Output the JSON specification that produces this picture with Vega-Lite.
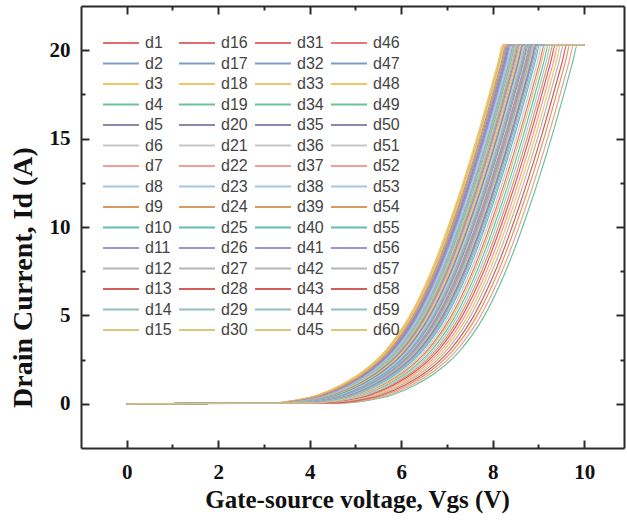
{
"$schema":"https://vega.github.io/schema/vega-lite/v6.json",
"width":543,"height":442,
"autosize":{"type":"none"},
"padding":{"left":81,"top":6,"right":3,"bottom":79},
"background":"white",
"config":{"view":{"stroke":null},
"axis":{"grid":false,"domainColor":"#2a2a2a","domainWidth":2,"tickColor":"#2a2a2a","tickWidth":2,"labelFont":"Liberation Serif","labelFontWeight":"bold","labelFontSize":21,"labelColor":"#111","titleFont":"Liberation Serif","titleFontWeight":"bold","titleFontSize":24,"titleColor":"#111","labelOverlap":false,"labelFlush":false,"labelBound":false}},
"datasets":{"curves":[
{"s":"d1","x":0,"y":0},{"s":"d1","x":3.41,"y":0.05},{"s":"d1","x":3.91,"y":0.2},{"s":"d1","x":4.41,"y":0.5},{"s":"d1","x":4.91,"y":1.05},{"s":"d1","x":5.41,"y":1.85},{"s":"d1","x":5.91,"y":3.05},{"s":"d1","x":6.41,"y":4.9},{"s":"d1","x":6.91,"y":7.6},{"s":"d1","x":7.41,"y":11.1},{"s":"d1","x":7.91,"y":15.2},{"s":"d1","x":8.36,"y":19.35},{"s":"d1","x":8.46,"y":20.3},{"s":"d1","x":10,"y":20.3},
{"s":"d2","x":0,"y":0},{"s":"d2","x":3.29,"y":0.05},{"s":"d2","x":3.79,"y":0.2},{"s":"d2","x":4.29,"y":0.5},{"s":"d2","x":4.79,"y":1.05},{"s":"d2","x":5.29,"y":1.85},{"s":"d2","x":5.79,"y":3.05},{"s":"d2","x":6.29,"y":4.9},{"s":"d2","x":6.79,"y":7.6},{"s":"d2","x":7.29,"y":11.1},{"s":"d2","x":7.79,"y":15.2},{"s":"d2","x":8.24,"y":19.35},{"s":"d2","x":8.34,"y":20.3},{"s":"d2","x":10,"y":20.3},
{"s":"d3","x":0,"y":0},{"s":"d3","x":3.17,"y":0.05},{"s":"d3","x":3.67,"y":0.2},{"s":"d3","x":4.17,"y":0.5},{"s":"d3","x":4.67,"y":1.05},{"s":"d3","x":5.17,"y":1.85},{"s":"d3","x":5.67,"y":3.05},{"s":"d3","x":6.17,"y":4.9},{"s":"d3","x":6.67,"y":7.6},{"s":"d3","x":7.17,"y":11.1},{"s":"d3","x":7.67,"y":15.2},{"s":"d3","x":8.12,"y":19.35},{"s":"d3","x":8.22,"y":20.3},{"s":"d3","x":10,"y":20.3},
{"s":"d4","x":0,"y":0},{"s":"d4","x":3.62,"y":0.05},{"s":"d4","x":4.12,"y":0.2},{"s":"d4","x":4.62,"y":0.5},{"s":"d4","x":5.12,"y":1.05},{"s":"d4","x":5.62,"y":1.85},{"s":"d4","x":6.12,"y":3.05},{"s":"d4","x":6.62,"y":4.9},{"s":"d4","x":7.12,"y":7.6},{"s":"d4","x":7.62,"y":11.1},{"s":"d4","x":8.12,"y":15.2},{"s":"d4","x":8.57,"y":19.35},{"s":"d4","x":8.67,"y":20.3},{"s":"d4","x":10,"y":20.3},
{"s":"d5","x":0,"y":0},{"s":"d5","x":3.33,"y":0.05},{"s":"d5","x":3.83,"y":0.2},{"s":"d5","x":4.33,"y":0.5},{"s":"d5","x":4.83,"y":1.05},{"s":"d5","x":5.33,"y":1.85},{"s":"d5","x":5.83,"y":3.05},{"s":"d5","x":6.33,"y":4.9},{"s":"d5","x":6.83,"y":7.6},{"s":"d5","x":7.33,"y":11.1},{"s":"d5","x":7.83,"y":15.2},{"s":"d5","x":8.28,"y":19.35},{"s":"d5","x":8.38,"y":20.3},{"s":"d5","x":10,"y":20.3},
{"s":"d6","x":0,"y":0},{"s":"d6","x":3.55,"y":0.05},{"s":"d6","x":4.05,"y":0.2},{"s":"d6","x":4.55,"y":0.5},{"s":"d6","x":5.05,"y":1.05},{"s":"d6","x":5.55,"y":1.85},{"s":"d6","x":6.05,"y":3.05},{"s":"d6","x":6.55,"y":4.9},{"s":"d6","x":7.05,"y":7.6},{"s":"d6","x":7.55,"y":11.1},{"s":"d6","x":8.05,"y":15.2},{"s":"d6","x":8.5,"y":19.35},{"s":"d6","x":8.6,"y":20.3},{"s":"d6","x":10,"y":20.3},
{"s":"d7","x":0,"y":0},{"s":"d7","x":3.5,"y":0.05},{"s":"d7","x":4.0,"y":0.2},{"s":"d7","x":4.5,"y":0.5},{"s":"d7","x":5.0,"y":1.05},{"s":"d7","x":5.5,"y":1.85},{"s":"d7","x":6.0,"y":3.05},{"s":"d7","x":6.5,"y":4.9},{"s":"d7","x":7.0,"y":7.6},{"s":"d7","x":7.5,"y":11.1},{"s":"d7","x":8.0,"y":15.2},{"s":"d7","x":8.45,"y":19.35},{"s":"d7","x":8.55,"y":20.3},{"s":"d7","x":10,"y":20.3},
{"s":"d8","x":0,"y":0},{"s":"d8","x":3.36,"y":0.05},{"s":"d8","x":3.86,"y":0.2},{"s":"d8","x":4.36,"y":0.5},{"s":"d8","x":4.86,"y":1.05},{"s":"d8","x":5.36,"y":1.85},{"s":"d8","x":5.86,"y":3.05},{"s":"d8","x":6.36,"y":4.9},{"s":"d8","x":6.86,"y":7.6},{"s":"d8","x":7.36,"y":11.1},{"s":"d8","x":7.86,"y":15.2},{"s":"d8","x":8.31,"y":19.35},{"s":"d8","x":8.41,"y":20.3},{"s":"d8","x":10,"y":20.3},
{"s":"d9","x":0,"y":0},{"s":"d9","x":3.2,"y":0.05},{"s":"d9","x":3.7,"y":0.2},{"s":"d9","x":4.2,"y":0.5},{"s":"d9","x":4.7,"y":1.05},{"s":"d9","x":5.2,"y":1.85},{"s":"d9","x":5.7,"y":3.05},{"s":"d9","x":6.2,"y":4.9},{"s":"d9","x":6.7,"y":7.6},{"s":"d9","x":7.2,"y":11.1},{"s":"d9","x":7.7,"y":15.2},{"s":"d9","x":8.15,"y":19.35},{"s":"d9","x":8.25,"y":20.3},{"s":"d9","x":10,"y":20.3},
{"s":"d10","x":0,"y":0},{"s":"d10","x":3.45,"y":0.05},{"s":"d10","x":3.95,"y":0.2},{"s":"d10","x":4.45,"y":0.5},{"s":"d10","x":4.95,"y":1.05},{"s":"d10","x":5.45,"y":1.85},{"s":"d10","x":5.95,"y":3.05},{"s":"d10","x":6.45,"y":4.9},{"s":"d10","x":6.95,"y":7.6},{"s":"d10","x":7.45,"y":11.1},{"s":"d10","x":7.95,"y":15.2},{"s":"d10","x":8.4,"y":19.35},{"s":"d10","x":8.5,"y":20.3},{"s":"d10","x":10,"y":20.3},
{"s":"d11","x":0,"y":0},{"s":"d11","x":3.27,"y":0.05},{"s":"d11","x":3.77,"y":0.2},{"s":"d11","x":4.27,"y":0.5},{"s":"d11","x":4.77,"y":1.05},{"s":"d11","x":5.27,"y":1.85},{"s":"d11","x":5.77,"y":3.05},{"s":"d11","x":6.27,"y":4.9},{"s":"d11","x":6.77,"y":7.6},{"s":"d11","x":7.27,"y":11.1},{"s":"d11","x":7.77,"y":15.2},{"s":"d11","x":8.22,"y":19.35},{"s":"d11","x":8.32,"y":20.3},{"s":"d11","x":10,"y":20.3},
{"s":"d12","x":0,"y":0},{"s":"d12","x":3.59,"y":0.05},{"s":"d12","x":4.09,"y":0.2},{"s":"d12","x":4.59,"y":0.5},{"s":"d12","x":5.09,"y":1.05},{"s":"d12","x":5.59,"y":1.85},{"s":"d12","x":6.09,"y":3.05},{"s":"d12","x":6.59,"y":4.9},{"s":"d12","x":7.09,"y":7.6},{"s":"d12","x":7.59,"y":11.1},{"s":"d12","x":8.09,"y":15.2},{"s":"d12","x":8.54,"y":19.35},{"s":"d12","x":8.64,"y":20.3},{"s":"d12","x":10,"y":20.3},
{"s":"d13","x":0,"y":0},{"s":"d13","x":3.68,"y":0.05},{"s":"d13","x":4.18,"y":0.2},{"s":"d13","x":4.68,"y":0.5},{"s":"d13","x":5.18,"y":1.05},{"s":"d13","x":5.68,"y":1.85},{"s":"d13","x":6.18,"y":3.05},{"s":"d13","x":6.68,"y":4.9},{"s":"d13","x":7.18,"y":7.6},{"s":"d13","x":7.68,"y":11.1},{"s":"d13","x":8.18,"y":15.2},{"s":"d13","x":8.63,"y":19.35},{"s":"d13","x":8.73,"y":20.3},{"s":"d13","x":10,"y":20.3},
{"s":"d14","x":0,"y":0},{"s":"d14","x":3.4,"y":0.05},{"s":"d14","x":3.9,"y":0.2},{"s":"d14","x":4.4,"y":0.5},{"s":"d14","x":4.9,"y":1.05},{"s":"d14","x":5.4,"y":1.85},{"s":"d14","x":5.9,"y":3.05},{"s":"d14","x":6.4,"y":4.9},{"s":"d14","x":6.9,"y":7.6},{"s":"d14","x":7.4,"y":11.1},{"s":"d14","x":7.9,"y":15.2},{"s":"d14","x":8.35,"y":19.35},{"s":"d14","x":8.45,"y":20.3},{"s":"d14","x":10,"y":20.3},
{"s":"d15","x":0,"y":0},{"s":"d15","x":3.19,"y":0.05},{"s":"d15","x":3.69,"y":0.2},{"s":"d15","x":4.19,"y":0.5},{"s":"d15","x":4.69,"y":1.05},{"s":"d15","x":5.19,"y":1.85},{"s":"d15","x":5.69,"y":3.05},{"s":"d15","x":6.19,"y":4.9},{"s":"d15","x":6.69,"y":7.6},{"s":"d15","x":7.19,"y":11.1},{"s":"d15","x":7.69,"y":15.2},{"s":"d15","x":8.14,"y":19.35},{"s":"d15","x":8.24,"y":20.3},{"s":"d15","x":10,"y":20.3},
{"s":"d16","x":0,"y":0},{"s":"d16","x":3.73,"y":0.05},{"s":"d16","x":4.23,"y":0.2},{"s":"d16","x":4.73,"y":0.5},{"s":"d16","x":5.23,"y":1.05},{"s":"d16","x":5.73,"y":1.85},{"s":"d16","x":6.23,"y":3.05},{"s":"d16","x":6.73,"y":4.9},{"s":"d16","x":7.23,"y":7.6},{"s":"d16","x":7.73,"y":11.1},{"s":"d16","x":8.23,"y":15.2},{"s":"d16","x":8.68,"y":19.35},{"s":"d16","x":8.78,"y":20.3},{"s":"d16","x":10,"y":20.3},
{"s":"d17","x":0,"y":0},{"s":"d17","x":3.24,"y":0.05},{"s":"d17","x":3.74,"y":0.2},{"s":"d17","x":4.24,"y":0.5},{"s":"d17","x":4.74,"y":1.05},{"s":"d17","x":5.24,"y":1.85},{"s":"d17","x":5.74,"y":3.05},{"s":"d17","x":6.24,"y":4.9},{"s":"d17","x":6.74,"y":7.6},{"s":"d17","x":7.24,"y":11.1},{"s":"d17","x":7.74,"y":15.2},{"s":"d17","x":8.19,"y":19.35},{"s":"d17","x":8.29,"y":20.3},{"s":"d17","x":10,"y":20.3},
{"s":"d18","x":0,"y":0},{"s":"d18","x":3.22,"y":0.05},{"s":"d18","x":3.72,"y":0.2},{"s":"d18","x":4.22,"y":0.5},{"s":"d18","x":4.72,"y":1.05},{"s":"d18","x":5.22,"y":1.85},{"s":"d18","x":5.72,"y":3.05},{"s":"d18","x":6.22,"y":4.9},{"s":"d18","x":6.72,"y":7.6},{"s":"d18","x":7.22,"y":11.1},{"s":"d18","x":7.72,"y":15.2},{"s":"d18","x":8.17,"y":19.35},{"s":"d18","x":8.27,"y":20.3},{"s":"d18","x":10,"y":20.3},
{"s":"d19","x":0,"y":0},{"s":"d19","x":3.8,"y":0.05},{"s":"d19","x":4.3,"y":0.2},{"s":"d19","x":4.8,"y":0.5},{"s":"d19","x":5.3,"y":1.05},{"s":"d19","x":5.8,"y":1.85},{"s":"d19","x":6.3,"y":3.05},{"s":"d19","x":6.8,"y":4.9},{"s":"d19","x":7.3,"y":7.6},{"s":"d19","x":7.8,"y":11.1},{"s":"d19","x":8.3,"y":15.2},{"s":"d19","x":8.75,"y":19.35},{"s":"d19","x":8.85,"y":20.3},{"s":"d19","x":10,"y":20.3},
{"s":"d20","x":0,"y":0},{"s":"d20","x":3.31,"y":0.05},{"s":"d20","x":3.81,"y":0.2},{"s":"d20","x":4.31,"y":0.5},{"s":"d20","x":4.81,"y":1.05},{"s":"d20","x":5.31,"y":1.85},{"s":"d20","x":5.81,"y":3.05},{"s":"d20","x":6.31,"y":4.9},{"s":"d20","x":6.81,"y":7.6},{"s":"d20","x":7.31,"y":11.1},{"s":"d20","x":7.81,"y":15.2},{"s":"d20","x":8.26,"y":19.35},{"s":"d20","x":8.36,"y":20.3},{"s":"d20","x":10,"y":20.3},
{"s":"d21","x":0,"y":0},{"s":"d21","x":3.64,"y":0.05},{"s":"d21","x":4.14,"y":0.2},{"s":"d21","x":4.64,"y":0.5},{"s":"d21","x":5.14,"y":1.05},{"s":"d21","x":5.64,"y":1.85},{"s":"d21","x":6.14,"y":3.05},{"s":"d21","x":6.64,"y":4.9},{"s":"d21","x":7.14,"y":7.6},{"s":"d21","x":7.64,"y":11.1},{"s":"d21","x":8.14,"y":15.2},{"s":"d21","x":8.59,"y":19.35},{"s":"d21","x":8.69,"y":20.3},{"s":"d21","x":10,"y":20.3},
{"s":"d22","x":0,"y":0},{"s":"d22","x":3.54,"y":0.05},{"s":"d22","x":4.04,"y":0.2},{"s":"d22","x":4.54,"y":0.5},{"s":"d22","x":5.04,"y":1.05},{"s":"d22","x":5.54,"y":1.85},{"s":"d22","x":6.04,"y":3.05},{"s":"d22","x":6.54,"y":4.9},{"s":"d22","x":7.04,"y":7.6},{"s":"d22","x":7.54,"y":11.1},{"s":"d22","x":8.04,"y":15.2},{"s":"d22","x":8.49,"y":19.35},{"s":"d22","x":8.59,"y":20.3},{"s":"d22","x":10,"y":20.3},
{"s":"d23","x":0,"y":0},{"s":"d23","x":3.38,"y":0.05},{"s":"d23","x":3.88,"y":0.2},{"s":"d23","x":4.38,"y":0.5},{"s":"d23","x":4.88,"y":1.05},{"s":"d23","x":5.38,"y":1.85},{"s":"d23","x":5.88,"y":3.05},{"s":"d23","x":6.38,"y":4.9},{"s":"d23","x":6.88,"y":7.6},{"s":"d23","x":7.38,"y":11.1},{"s":"d23","x":7.88,"y":15.2},{"s":"d23","x":8.33,"y":19.35},{"s":"d23","x":8.43,"y":20.3},{"s":"d23","x":10,"y":20.3},
{"s":"d24","x":0,"y":0},{"s":"d24","x":3.26,"y":0.05},{"s":"d24","x":3.76,"y":0.2},{"s":"d24","x":4.26,"y":0.5},{"s":"d24","x":4.76,"y":1.05},{"s":"d24","x":5.26,"y":1.85},{"s":"d24","x":5.76,"y":3.05},{"s":"d24","x":6.26,"y":4.9},{"s":"d24","x":6.76,"y":7.6},{"s":"d24","x":7.26,"y":11.1},{"s":"d24","x":7.76,"y":15.2},{"s":"d24","x":8.21,"y":19.35},{"s":"d24","x":8.31,"y":20.3},{"s":"d24","x":10,"y":20.3},
{"s":"d25","x":0,"y":0},{"s":"d25","x":3.48,"y":0.05},{"s":"d25","x":3.98,"y":0.2},{"s":"d25","x":4.48,"y":0.5},{"s":"d25","x":4.98,"y":1.05},{"s":"d25","x":5.48,"y":1.85},{"s":"d25","x":5.98,"y":3.05},{"s":"d25","x":6.48,"y":4.9},{"s":"d25","x":6.98,"y":7.6},{"s":"d25","x":7.48,"y":11.1},{"s":"d25","x":7.98,"y":15.2},{"s":"d25","x":8.43,"y":19.35},{"s":"d25","x":8.53,"y":20.3},{"s":"d25","x":10,"y":20.3},
{"s":"d26","x":0,"y":0},{"s":"d26","x":3.34,"y":0.05},{"s":"d26","x":3.84,"y":0.2},{"s":"d26","x":4.34,"y":0.5},{"s":"d26","x":4.84,"y":1.05},{"s":"d26","x":5.34,"y":1.85},{"s":"d26","x":5.84,"y":3.05},{"s":"d26","x":6.34,"y":4.9},{"s":"d26","x":6.84,"y":7.6},{"s":"d26","x":7.34,"y":11.1},{"s":"d26","x":7.84,"y":15.2},{"s":"d26","x":8.29,"y":19.35},{"s":"d26","x":8.39,"y":20.3},{"s":"d26","x":10,"y":20.3},
{"s":"d27","x":0,"y":0},{"s":"d27","x":3.69,"y":0.05},{"s":"d27","x":4.19,"y":0.2},{"s":"d27","x":4.69,"y":0.5},{"s":"d27","x":5.19,"y":1.05},{"s":"d27","x":5.69,"y":1.85},{"s":"d27","x":6.19,"y":3.05},{"s":"d27","x":6.69,"y":4.9},{"s":"d27","x":7.19,"y":7.6},{"s":"d27","x":7.69,"y":11.1},{"s":"d27","x":8.19,"y":15.2},{"s":"d27","x":8.64,"y":19.35},{"s":"d27","x":8.74,"y":20.3},{"s":"d27","x":10,"y":20.3},
{"s":"d28","x":0,"y":0},{"s":"d28","x":3.76,"y":0.05},{"s":"d28","x":4.26,"y":0.2},{"s":"d28","x":4.76,"y":0.5},{"s":"d28","x":5.26,"y":1.05},{"s":"d28","x":5.76,"y":1.85},{"s":"d28","x":6.26,"y":3.05},{"s":"d28","x":6.76,"y":4.9},{"s":"d28","x":7.26,"y":7.6},{"s":"d28","x":7.76,"y":11.1},{"s":"d28","x":8.26,"y":15.2},{"s":"d28","x":8.71,"y":19.35},{"s":"d28","x":8.81,"y":20.3},{"s":"d28","x":10,"y":20.3},
{"s":"d29","x":0,"y":0},{"s":"d29","x":3.43,"y":0.05},{"s":"d29","x":3.93,"y":0.2},{"s":"d29","x":4.43,"y":0.5},{"s":"d29","x":4.93,"y":1.05},{"s":"d29","x":5.43,"y":1.85},{"s":"d29","x":5.93,"y":3.05},{"s":"d29","x":6.43,"y":4.9},{"s":"d29","x":6.93,"y":7.6},{"s":"d29","x":7.43,"y":11.1},{"s":"d29","x":7.93,"y":15.2},{"s":"d29","x":8.38,"y":19.35},{"s":"d29","x":8.48,"y":20.3},{"s":"d29","x":10,"y":20.3},
{"s":"d30","x":0,"y":0},{"s":"d30","x":3.47,"y":0.05},{"s":"d30","x":3.97,"y":0.2},{"s":"d30","x":4.47,"y":0.5},{"s":"d30","x":4.97,"y":1.05},{"s":"d30","x":5.47,"y":1.85},{"s":"d30","x":5.97,"y":3.05},{"s":"d30","x":6.47,"y":4.9},{"s":"d30","x":6.97,"y":7.6},{"s":"d30","x":7.47,"y":11.1},{"s":"d30","x":7.97,"y":15.2},{"s":"d30","x":8.42,"y":19.35},{"s":"d30","x":8.52,"y":20.3},{"s":"d30","x":10,"y":20.3},
{"s":"d31","x":0,"y":0},{"s":"d31","x":3.82,"y":0.05},{"s":"d31","x":4.32,"y":0.2},{"s":"d31","x":4.82,"y":0.5},{"s":"d31","x":5.32,"y":1.05},{"s":"d31","x":5.82,"y":1.85},{"s":"d31","x":6.32,"y":3.05},{"s":"d31","x":6.82,"y":4.9},{"s":"d31","x":7.32,"y":7.6},{"s":"d31","x":7.82,"y":11.1},{"s":"d31","x":8.32,"y":15.2},{"s":"d31","x":8.77,"y":19.35},{"s":"d31","x":8.87,"y":20.3},{"s":"d31","x":10,"y":20.3},
{"s":"d32","x":0,"y":0},{"s":"d32","x":3.52,"y":0.05},{"s":"d32","x":4.02,"y":0.2},{"s":"d32","x":4.52,"y":0.5},{"s":"d32","x":5.02,"y":1.05},{"s":"d32","x":5.52,"y":1.85},{"s":"d32","x":6.02,"y":3.05},{"s":"d32","x":6.52,"y":4.9},{"s":"d32","x":7.02,"y":7.6},{"s":"d32","x":7.52,"y":11.1},{"s":"d32","x":8.02,"y":15.2},{"s":"d32","x":8.47,"y":19.35},{"s":"d32","x":8.57,"y":20.3},{"s":"d32","x":10,"y":20.3},
{"s":"d33","x":0,"y":0},{"s":"d33","x":3.57,"y":0.05},{"s":"d33","x":4.07,"y":0.2},{"s":"d33","x":4.57,"y":0.5},{"s":"d33","x":5.07,"y":1.05},{"s":"d33","x":5.57,"y":1.85},{"s":"d33","x":6.07,"y":3.05},{"s":"d33","x":6.57,"y":4.9},{"s":"d33","x":7.07,"y":7.6},{"s":"d33","x":7.57,"y":11.1},{"s":"d33","x":8.07,"y":15.2},{"s":"d33","x":8.52,"y":19.35},{"s":"d33","x":8.62,"y":20.3},{"s":"d33","x":10,"y":20.3},
{"s":"d34","x":0,"y":0},{"s":"d34","x":4.17,"y":0.05},{"s":"d34","x":4.67,"y":0.2},{"s":"d34","x":5.17,"y":0.5},{"s":"d34","x":5.67,"y":1.05},{"s":"d34","x":6.17,"y":1.85},{"s":"d34","x":6.67,"y":3.05},{"s":"d34","x":7.17,"y":4.9},{"s":"d34","x":7.67,"y":7.6},{"s":"d34","x":8.17,"y":11.1},{"s":"d34","x":8.67,"y":15.2},{"s":"d34","x":9.12,"y":19.35},{"s":"d34","x":9.22,"y":20.3},{"s":"d34","x":10,"y":20.3},
{"s":"d35","x":0,"y":0},{"s":"d35","x":3.61,"y":0.05},{"s":"d35","x":4.11,"y":0.2},{"s":"d35","x":4.61,"y":0.5},{"s":"d35","x":5.11,"y":1.05},{"s":"d35","x":5.61,"y":1.85},{"s":"d35","x":6.11,"y":3.05},{"s":"d35","x":6.61,"y":4.9},{"s":"d35","x":7.11,"y":7.6},{"s":"d35","x":7.61,"y":11.1},{"s":"d35","x":8.11,"y":15.2},{"s":"d35","x":8.56,"y":19.35},{"s":"d35","x":8.66,"y":20.3},{"s":"d35","x":10,"y":20.3},
{"s":"d36","x":0,"y":0},{"s":"d36","x":3.75,"y":0.05},{"s":"d36","x":4.25,"y":0.2},{"s":"d36","x":4.75,"y":0.5},{"s":"d36","x":5.25,"y":1.05},{"s":"d36","x":5.75,"y":1.85},{"s":"d36","x":6.25,"y":3.05},{"s":"d36","x":6.75,"y":4.9},{"s":"d36","x":7.25,"y":7.6},{"s":"d36","x":7.75,"y":11.1},{"s":"d36","x":8.25,"y":15.2},{"s":"d36","x":8.7,"y":19.35},{"s":"d36","x":8.8,"y":20.3},{"s":"d36","x":10,"y":20.3},
{"s":"d37","x":0,"y":0},{"s":"d37","x":4.38,"y":0.05},{"s":"d37","x":4.88,"y":0.2},{"s":"d37","x":5.38,"y":0.5},{"s":"d37","x":5.88,"y":1.05},{"s":"d37","x":6.38,"y":1.85},{"s":"d37","x":6.88,"y":3.05},{"s":"d37","x":7.38,"y":4.9},{"s":"d37","x":7.88,"y":7.6},{"s":"d37","x":8.38,"y":11.1},{"s":"d37","x":8.88,"y":15.2},{"s":"d37","x":9.33,"y":19.35},{"s":"d37","x":9.43,"y":20.3},{"s":"d37","x":10,"y":20.3},
{"s":"d38","x":0,"y":0},{"s":"d38","x":3.66,"y":0.05},{"s":"d38","x":4.16,"y":0.2},{"s":"d38","x":4.66,"y":0.5},{"s":"d38","x":5.16,"y":1.05},{"s":"d38","x":5.66,"y":1.85},{"s":"d38","x":6.16,"y":3.05},{"s":"d38","x":6.66,"y":4.9},{"s":"d38","x":7.16,"y":7.6},{"s":"d38","x":7.66,"y":11.1},{"s":"d38","x":8.16,"y":15.2},{"s":"d38","x":8.61,"y":19.35},{"s":"d38","x":8.71,"y":20.3},{"s":"d38","x":10,"y":20.3},
{"s":"d39","x":0,"y":0},{"s":"d39","x":4.27,"y":0.05},{"s":"d39","x":4.77,"y":0.2},{"s":"d39","x":5.27,"y":0.5},{"s":"d39","x":5.77,"y":1.05},{"s":"d39","x":6.27,"y":1.85},{"s":"d39","x":6.77,"y":3.05},{"s":"d39","x":7.27,"y":4.9},{"s":"d39","x":7.77,"y":7.6},{"s":"d39","x":8.27,"y":11.1},{"s":"d39","x":8.77,"y":15.2},{"s":"d39","x":9.22,"y":19.35},{"s":"d39","x":9.32,"y":20.3},{"s":"d39","x":10,"y":20.3},
{"s":"d40","x":0,"y":0},{"s":"d40","x":3.71,"y":0.05},{"s":"d40","x":4.21,"y":0.2},{"s":"d40","x":4.71,"y":0.5},{"s":"d40","x":5.21,"y":1.05},{"s":"d40","x":5.71,"y":1.85},{"s":"d40","x":6.21,"y":3.05},{"s":"d40","x":6.71,"y":4.9},{"s":"d40","x":7.21,"y":7.6},{"s":"d40","x":7.71,"y":11.1},{"s":"d40","x":8.21,"y":15.2},{"s":"d40","x":8.66,"y":19.35},{"s":"d40","x":8.76,"y":20.3},{"s":"d40","x":10,"y":20.3},
{"s":"d41","x":0,"y":0},{"s":"d41","x":3.78,"y":0.05},{"s":"d41","x":4.28,"y":0.2},{"s":"d41","x":4.78,"y":0.5},{"s":"d41","x":5.28,"y":1.05},{"s":"d41","x":5.78,"y":1.85},{"s":"d41","x":6.28,"y":3.05},{"s":"d41","x":6.78,"y":4.9},{"s":"d41","x":7.28,"y":7.6},{"s":"d41","x":7.78,"y":11.1},{"s":"d41","x":8.28,"y":15.2},{"s":"d41","x":8.73,"y":19.35},{"s":"d41","x":8.83,"y":20.3},{"s":"d41","x":10,"y":20.3},
{"s":"d42","x":0,"y":0},{"s":"d42","x":3.83,"y":0.05},{"s":"d42","x":4.33,"y":0.2},{"s":"d42","x":4.83,"y":0.5},{"s":"d42","x":5.33,"y":1.05},{"s":"d42","x":5.83,"y":1.85},{"s":"d42","x":6.33,"y":3.05},{"s":"d42","x":6.83,"y":4.9},{"s":"d42","x":7.33,"y":7.6},{"s":"d42","x":7.83,"y":11.1},{"s":"d42","x":8.33,"y":15.2},{"s":"d42","x":8.78,"y":19.35},{"s":"d42","x":8.88,"y":20.3},{"s":"d42","x":10,"y":20.3},
{"s":"d43","x":0,"y":0},{"s":"d43","x":4.32,"y":0.05},{"s":"d43","x":4.82,"y":0.2},{"s":"d43","x":5.32,"y":0.5},{"s":"d43","x":5.82,"y":1.05},{"s":"d43","x":6.32,"y":1.85},{"s":"d43","x":6.82,"y":3.05},{"s":"d43","x":7.32,"y":4.9},{"s":"d43","x":7.82,"y":7.6},{"s":"d43","x":8.32,"y":11.1},{"s":"d43","x":8.82,"y":15.2},{"s":"d43","x":9.27,"y":19.35},{"s":"d43","x":9.37,"y":20.3},{"s":"d43","x":10,"y":20.3},
{"s":"d44","x":0,"y":0},{"s":"d44","x":3.85,"y":0.05},{"s":"d44","x":4.35,"y":0.2},{"s":"d44","x":4.85,"y":0.5},{"s":"d44","x":5.35,"y":1.05},{"s":"d44","x":5.85,"y":1.85},{"s":"d44","x":6.35,"y":3.05},{"s":"d44","x":6.85,"y":4.9},{"s":"d44","x":7.35,"y":7.6},{"s":"d44","x":7.85,"y":11.1},{"s":"d44","x":8.35,"y":15.2},{"s":"d44","x":8.8,"y":19.35},{"s":"d44","x":8.9,"y":20.3},{"s":"d44","x":10,"y":20.3},
{"s":"d45","x":0,"y":0},{"s":"d45","x":3.87,"y":0.05},{"s":"d45","x":4.37,"y":0.2},{"s":"d45","x":4.87,"y":0.5},{"s":"d45","x":5.37,"y":1.05},{"s":"d45","x":5.87,"y":1.85},{"s":"d45","x":6.37,"y":3.05},{"s":"d45","x":6.87,"y":4.9},{"s":"d45","x":7.37,"y":7.6},{"s":"d45","x":7.87,"y":11.1},{"s":"d45","x":8.37,"y":15.2},{"s":"d45","x":8.82,"y":19.35},{"s":"d45","x":8.92,"y":20.3},{"s":"d45","x":10,"y":20.3},
{"s":"d46","x":0,"y":0},{"s":"d46","x":4.08,"y":0.05},{"s":"d46","x":4.58,"y":0.2},{"s":"d46","x":5.08,"y":0.5},{"s":"d46","x":5.58,"y":1.05},{"s":"d46","x":6.08,"y":1.85},{"s":"d46","x":6.58,"y":3.05},{"s":"d46","x":7.08,"y":4.9},{"s":"d46","x":7.58,"y":7.6},{"s":"d46","x":8.08,"y":11.1},{"s":"d46","x":8.58,"y":15.2},{"s":"d46","x":9.03,"y":19.35},{"s":"d46","x":9.13,"y":20.3},{"s":"d46","x":10,"y":20.3},
{"s":"d47","x":0,"y":0},{"s":"d47","x":3.89,"y":0.05},{"s":"d47","x":4.39,"y":0.2},{"s":"d47","x":4.89,"y":0.5},{"s":"d47","x":5.39,"y":1.05},{"s":"d47","x":5.89,"y":1.85},{"s":"d47","x":6.39,"y":3.05},{"s":"d47","x":6.89,"y":4.9},{"s":"d47","x":7.39,"y":7.6},{"s":"d47","x":7.89,"y":11.1},{"s":"d47","x":8.39,"y":15.2},{"s":"d47","x":8.84,"y":19.35},{"s":"d47","x":8.94,"y":20.3},{"s":"d47","x":10,"y":20.3},
{"s":"d48","x":0,"y":0},{"s":"d48","x":4.44,"y":0.05},{"s":"d48","x":4.94,"y":0.2},{"s":"d48","x":5.44,"y":0.5},{"s":"d48","x":5.94,"y":1.05},{"s":"d48","x":6.44,"y":1.85},{"s":"d48","x":6.94,"y":3.05},{"s":"d48","x":7.44,"y":4.9},{"s":"d48","x":7.94,"y":7.6},{"s":"d48","x":8.44,"y":11.1},{"s":"d48","x":8.94,"y":15.2},{"s":"d48","x":9.39,"y":19.35},{"s":"d48","x":9.49,"y":20.3},{"s":"d48","x":10,"y":20.3},
{"s":"d49","x":0,"y":0},{"s":"d49","x":4.8,"y":0.05},{"s":"d49","x":5.3,"y":0.2},{"s":"d49","x":5.8,"y":0.5},{"s":"d49","x":6.3,"y":1.05},{"s":"d49","x":6.8,"y":1.85},{"s":"d49","x":7.3,"y":3.05},{"s":"d49","x":7.8,"y":4.9},{"s":"d49","x":8.3,"y":7.6},{"s":"d49","x":8.8,"y":11.1},{"s":"d49","x":9.3,"y":15.2},{"s":"d49","x":9.75,"y":19.35},{"s":"d49","x":9.85,"y":20.3},{"s":"d49","x":10,"y":20.3},
{"s":"d50","x":0,"y":0},{"s":"d50","x":3.9,"y":0.05},{"s":"d50","x":4.4,"y":0.2},{"s":"d50","x":4.9,"y":0.5},{"s":"d50","x":5.4,"y":1.05},{"s":"d50","x":5.9,"y":1.85},{"s":"d50","x":6.4,"y":3.05},{"s":"d50","x":6.9,"y":4.9},{"s":"d50","x":7.4,"y":7.6},{"s":"d50","x":7.9,"y":11.1},{"s":"d50","x":8.4,"y":15.2},{"s":"d50","x":8.85,"y":19.35},{"s":"d50","x":8.95,"y":20.3},{"s":"d50","x":10,"y":20.3},
{"s":"d51","x":0,"y":0},{"s":"d51","x":4.03,"y":0.05},{"s":"d51","x":4.53,"y":0.2},{"s":"d51","x":5.03,"y":0.5},{"s":"d51","x":5.53,"y":1.05},{"s":"d51","x":6.03,"y":1.85},{"s":"d51","x":6.53,"y":3.05},{"s":"d51","x":7.03,"y":4.9},{"s":"d51","x":7.53,"y":7.6},{"s":"d51","x":8.03,"y":11.1},{"s":"d51","x":8.53,"y":15.2},{"s":"d51","x":8.98,"y":19.35},{"s":"d51","x":9.08,"y":20.3},{"s":"d51","x":10,"y":20.3},
{"s":"d52","x":0,"y":0},{"s":"d52","x":4.72,"y":0.05},{"s":"d52","x":5.22,"y":0.2},{"s":"d52","x":5.72,"y":0.5},{"s":"d52","x":6.22,"y":1.05},{"s":"d52","x":6.72,"y":1.85},{"s":"d52","x":7.22,"y":3.05},{"s":"d52","x":7.72,"y":4.9},{"s":"d52","x":8.22,"y":7.6},{"s":"d52","x":8.72,"y":11.1},{"s":"d52","x":9.22,"y":15.2},{"s":"d52","x":9.67,"y":19.35},{"s":"d52","x":9.77,"y":20.3},{"s":"d52","x":10,"y":20.3},
{"s":"d53","x":0,"y":0},{"s":"d53","x":4.22,"y":0.05},{"s":"d53","x":4.72,"y":0.2},{"s":"d53","x":5.22,"y":0.5},{"s":"d53","x":5.72,"y":1.05},{"s":"d53","x":6.22,"y":1.85},{"s":"d53","x":6.72,"y":3.05},{"s":"d53","x":7.22,"y":4.9},{"s":"d53","x":7.72,"y":7.6},{"s":"d53","x":8.22,"y":11.1},{"s":"d53","x":8.72,"y":15.2},{"s":"d53","x":9.17,"y":19.35},{"s":"d53","x":9.27,"y":20.3},{"s":"d53","x":10,"y":20.3},
{"s":"d54","x":0,"y":0},{"s":"d54","x":4.64,"y":0.05},{"s":"d54","x":5.14,"y":0.2},{"s":"d54","x":5.64,"y":0.5},{"s":"d54","x":6.14,"y":1.05},{"s":"d54","x":6.64,"y":1.85},{"s":"d54","x":7.14,"y":3.05},{"s":"d54","x":7.64,"y":4.9},{"s":"d54","x":8.14,"y":7.6},{"s":"d54","x":8.64,"y":11.1},{"s":"d54","x":9.14,"y":15.2},{"s":"d54","x":9.59,"y":19.35},{"s":"d54","x":9.69,"y":20.3},{"s":"d54","x":10,"y":20.3},
{"s":"d55","x":0,"y":0},{"s":"d55","x":3.98,"y":0.05},{"s":"d55","x":4.48,"y":0.2},{"s":"d55","x":4.98,"y":0.5},{"s":"d55","x":5.48,"y":1.05},{"s":"d55","x":5.98,"y":1.85},{"s":"d55","x":6.48,"y":3.05},{"s":"d55","x":6.98,"y":4.9},{"s":"d55","x":7.48,"y":7.6},{"s":"d55","x":7.98,"y":11.1},{"s":"d55","x":8.48,"y":15.2},{"s":"d55","x":8.93,"y":19.35},{"s":"d55","x":9.03,"y":20.3},{"s":"d55","x":10,"y":20.3},
{"s":"d56","x":0,"y":0},{"s":"d56","x":3.92,"y":0.05},{"s":"d56","x":4.42,"y":0.2},{"s":"d56","x":4.92,"y":0.5},{"s":"d56","x":5.42,"y":1.05},{"s":"d56","x":5.92,"y":1.85},{"s":"d56","x":6.42,"y":3.05},{"s":"d56","x":6.92,"y":4.9},{"s":"d56","x":7.42,"y":7.6},{"s":"d56","x":7.92,"y":11.1},{"s":"d56","x":8.42,"y":15.2},{"s":"d56","x":8.87,"y":19.35},{"s":"d56","x":8.97,"y":20.3},{"s":"d56","x":10,"y":20.3},
{"s":"d57","x":0,"y":0},{"s":"d57","x":4.5,"y":0.05},{"s":"d57","x":5.0,"y":0.2},{"s":"d57","x":5.5,"y":0.5},{"s":"d57","x":6.0,"y":1.05},{"s":"d57","x":6.5,"y":1.85},{"s":"d57","x":7.0,"y":3.05},{"s":"d57","x":7.5,"y":4.9},{"s":"d57","x":8.0,"y":7.6},{"s":"d57","x":8.5,"y":11.1},{"s":"d57","x":9.0,"y":15.2},{"s":"d57","x":9.45,"y":19.35},{"s":"d57","x":9.55,"y":20.3},{"s":"d57","x":10,"y":20.3},
{"s":"d58","x":0,"y":0},{"s":"d58","x":4.57,"y":0.05},{"s":"d58","x":5.07,"y":0.2},{"s":"d58","x":5.57,"y":0.5},{"s":"d58","x":6.07,"y":1.05},{"s":"d58","x":6.57,"y":1.85},{"s":"d58","x":7.07,"y":3.05},{"s":"d58","x":7.57,"y":4.9},{"s":"d58","x":8.07,"y":7.6},{"s":"d58","x":8.57,"y":11.1},{"s":"d58","x":9.07,"y":15.2},{"s":"d58","x":9.52,"y":19.35},{"s":"d58","x":9.62,"y":20.3},{"s":"d58","x":10,"y":20.3},
{"s":"d59","x":0,"y":0},{"s":"d59","x":3.95,"y":0.05},{"s":"d59","x":4.45,"y":0.2},{"s":"d59","x":4.95,"y":0.5},{"s":"d59","x":5.45,"y":1.05},{"s":"d59","x":5.95,"y":1.85},{"s":"d59","x":6.45,"y":3.05},{"s":"d59","x":6.95,"y":4.9},{"s":"d59","x":7.45,"y":7.6},{"s":"d59","x":7.95,"y":11.1},{"s":"d59","x":8.45,"y":15.2},{"s":"d59","x":8.9,"y":19.35},{"s":"d59","x":9.0,"y":20.3},{"s":"d59","x":10,"y":20.3},
{"s":"d60","x":0,"y":0},{"s":"d60","x":4.12,"y":0.05},{"s":"d60","x":4.62,"y":0.2},{"s":"d60","x":5.12,"y":0.5},{"s":"d60","x":5.62,"y":1.05},{"s":"d60","x":6.12,"y":1.85},{"s":"d60","x":6.62,"y":3.05},{"s":"d60","x":7.12,"y":4.9},{"s":"d60","x":7.62,"y":7.6},{"s":"d60","x":8.12,"y":11.1},{"s":"d60","x":8.62,"y":15.2},{"s":"d60","x":9.07,"y":19.35},{"s":"d60","x":9.17,"y":20.3},{"s":"d60","x":10,"y":20.3}
],
"frame":[{"x":0,"y":0}]},
"layer":[
{"data":{"name":"curves"},
"mark":{"type":"line","strokeWidth":1.2,"interpolate":"monotone","clip":true},
"encoding":{
"x":{"field":"x","type":"quantitative","scale":{"domain":[-1,10.87],"nice":false,"zero":false},
"axis":{"orient":"bottom","values":[0,1,2,3,4,5,6,7,8,9,10],"tickSize":{"condition":{"test":"datum.value % 2 === 0","value":-8},"value":-4},"labelExpr":"datum.value % 2 === 0 ? datum.label : ''","labelPadding":21,"title":"Gate-source voltage, Vgs (V)","titleX":276,"titleY":59,"titleBaseline":"alphabetic","titleAlign":"center","titleFontSize":25}},
"y":{"field":"y","type":"quantitative","scale":{"domain":[-2.5,22.5],"nice":false,"zero":false},
"axis":{"orient":"left","values":[0,2.5,5,7.5,10,12.5,15,17.5,20],"tickSize":{"condition":{"test":"datum.value % 5 === 0","value":-8},"value":-4},"labelExpr":"datum.value % 5 === 0 ? datum.label : ''","labelPadding":19,"title":"Drain Current, Id (A)","titleX":-50,"titleY":271,"titleAngle":270,"titleBaseline":"alphabetic","titleAlign":"center","titleFontSize":28}},
"color":{"field":"s","type":"nominal",
"scale":{"domain":["d1","d2","d3","d4","d5","d6","d7","d8","d9","d10","d11","d12","d13","d14","d15","d16","d17","d18","d19","d20","d21","d22","d23","d24","d25","d26","d27","d28","d29","d30","d31","d32","d33","d34","d35","d36","d37","d38","d39","d40","d41","d42","d43","d44","d45","d46","d47","d48","d49","d50","d51","d52","d53","d54","d55","d56","d57","d58","d59","d60"],
"range":["#e06b6b","#7d9bc9","#f5c35f","#6cc496","#8a88ad","#c8c8c8","#f29c9c","#a6c6e6","#d99a5b","#5fbdbd","#a194d4","#b5b5b5","#d65c5c","#94bfbf","#dfc47c",
"#e06b6b","#7d9bc9","#f5c35f","#6cc496","#8a88ad","#c8c8c8","#f29c9c","#a6c6e6","#d99a5b","#5fbdbd","#a194d4","#b5b5b5","#d65c5c","#94bfbf","#dfc47c",
"#e06b6b","#7d9bc9","#f5c35f","#6cc496","#8a88ad","#c8c8c8","#f29c9c","#a6c6e6","#d99a5b","#5fbdbd","#a194d4","#b5b5b5","#d65c5c","#94bfbf","#dfc47c",
"#e87676","#7d9bc9","#f5c35f","#6cc496","#8a88ad","#c8c8c8","#f29c9c","#a6c6e6","#d99a5b","#5fbdbd","#a194d4","#b5b5b5","#d65c5c","#94bfbf","#dfc47c"]},
"legend":{"orient":"none","legendX":21,"legendY":29,"columns":4,"direction":"vertical","symbolLimit":100,"title":null,"symbolType":"stroke","symbolSize":1296,"symbolStrokeWidth":2,"clipHeight":16,"rowPadding":4.5,"columnPadding":6,"labelFont":"Liberation Sans","labelFontSize":16,"labelColor":"#444","labelOffset":5,"padding":0,"symbolOpacity":1}}}},
{"data":{"name":"frame"},
"mark":{"type":"point","opacity":0},
"encoding":{
"x":{"field":"x","type":"quantitative","scale":{"domain":[-1,10.87],"nice":false,"zero":false},
"axis":{"orient":"top","values":[0,1,2,3,4,5,6,7,8,9,10],"tickSize":{"condition":{"test":"datum.value % 2 === 0","value":-8},"value":-4},"labels":false,"title":null}},
"y":{"field":"y","type":"quantitative","scale":{"domain":[-2.5,22.5],"nice":false,"zero":false},
"axis":{"orient":"right","values":[0,2.5,5,7.5,10,12.5,15,17.5,20],"tickSize":{"condition":{"test":"datum.value % 5 === 0","value":-8},"value":-4},"labels":false,"title":null}}}}
],
"resolve":{"scale":{"x":"independent","y":"independent"},"axis":{"x":"independent","y":"independent"}}
}
